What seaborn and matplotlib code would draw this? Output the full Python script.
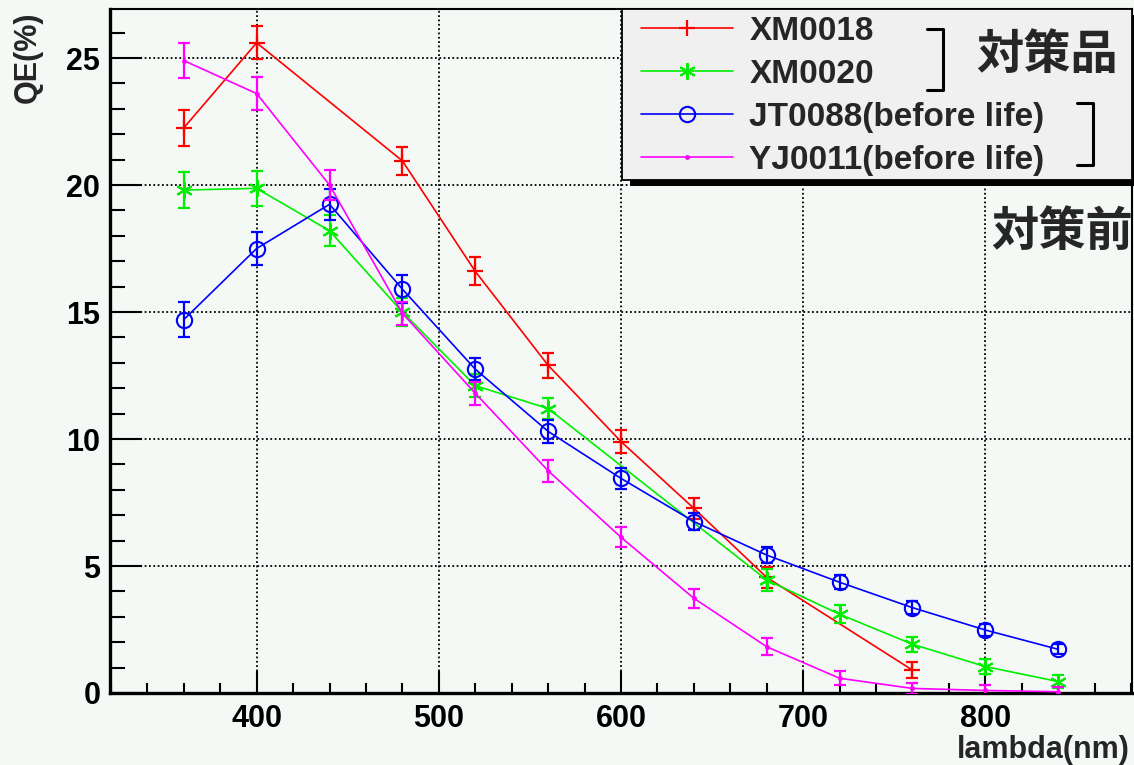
import numpy as np
import pandas as pd
import matplotlib
matplotlib.use("Agg")
import matplotlib.pyplot as plt
from matplotlib.lines import Line2D
from matplotlib.patches import Rectangle
from matplotlib.ticker import MultipleLocator
import seaborn as sns

# QE vs wavelength
wl_xm0018 = [360, 400, 480, 520, 560, 600, 640, 680, 760]
qe_xm0018 = [22.25, 25.6, 20.95, 16.6, 12.9, 9.9, 7.27, 4.55, 0.9]
er_xm0018 = [0.7, 0.65, 0.55, 0.55, 0.5, 0.46, 0.42, 0.4, 0.32]

wl_xm0020 = [360, 400, 440, 480, 520, 560, 680, 720, 760, 800, 840]
qe_xm0020 = [19.8, 19.87, 18.2, 15.0, 12.1, 11.2, 4.45, 3.1, 1.92, 1.04, 0.45]
er_xm0020 = [0.7, 0.7, 0.6, 0.55, 0.45, 0.43, 0.42, 0.35, 0.3, 0.3, 0.25]

wl_jt0088 = [360, 400, 440, 480, 520, 560, 600, 640, 680, 720, 760, 800, 840]
qe_jt0088 = [14.7, 17.5, 19.24, 15.9, 12.75, 10.3, 8.45, 6.75, 5.43, 4.36, 3.36, 2.48, 1.72]
er_jt0088 = [0.7, 0.66, 0.6, 0.55, 0.43, 0.45, 0.4, 0.35, 0.3, 0.28, 0.25, 0.22, 0.2]

wl_yj0011 = [360, 400, 440, 480, 520, 560, 600, 640, 680, 720, 760, 800, 840]
qe_yj0011 = [24.9, 23.6, 20.0, 14.95, 11.8, 8.75, 6.13, 3.73, 1.82, 0.58, 0.18, 0.1, 0.05]
er_yj0011 = [0.68, 0.64, 0.6, 0.45, 0.46, 0.43, 0.4, 0.37, 0.33, 0.28, 0.22, 0.2, 0.18]

labels = ["XM0018", "XM0020", "JT0088(before life)", "YJ0011(before life)"]
group_labels = ["対策品", "対策前"]

W, H = 1134, 765
BG = "#f5f9f6"

sns.set_theme(style="ticks")
plt.rcParams.update({
    "font.family": ["Liberation Sans", "DejaVu Sans"],
    "font.weight": "bold",
    "axes.labelweight": "bold",
    "figure.facecolor": BG,
    "axes.facecolor": BG,
    "savefig.facecolor": BG,
})

series = [
    (wl_xm0018, qe_xm0018, er_xm0018, "#ff0000", dict(marker="+", markersize=12, markeredgewidth=1.6)),
    (wl_xm0020, qe_xm0020, er_xm0020, "#00ee00", dict(marker=(6, 2, 0), markersize=12, markeredgewidth=1.5)),
    (wl_jt0088, qe_jt0088, er_jt0088, "#0000ff", dict(marker="o", markersize=11, markerfacecolor="none", markeredgewidth=1.5)),
    (wl_yj0011, qe_yj0011, er_yj0011, "#ff00ff", dict(marker="o", markersize=3.5, markeredgewidth=0)),
]

fig = plt.figure(figsize=(W / 100, H / 100), dpi=100)
ax = fig.add_axes([110 / W, 72 / H, 1022 / W, 684 / H])

handles = []
for (wl, qe, er, col, mk), lab in zip(series, labels):
    df = pd.DataFrame({"lambda": wl, "QE": qe})
    sns.lineplot(data=df, x="lambda", y="QE", ax=ax, color=col, linewidth=1.2,
                 errorbar=None, markeredgecolor=col, zorder=3, **mk)
    ax.errorbar(wl, qe, yerr=er, fmt="none", ecolor=col, elinewidth=1.6,
                capsize=4.5, capthick=1.6, zorder=3)
    handles.append(Line2D([], [], color=col, linewidth=1.2, markeredgecolor=col, **mk))

ax.set_xlim(319.5, 880.5)
ax.set_ylim(0, 26.93)
ax.xaxis.set_major_locator(MultipleLocator(100))
ax.xaxis.set_minor_locator(MultipleLocator(20))
ax.yaxis.set_major_locator(MultipleLocator(5))
ax.yaxis.set_minor_locator(MultipleLocator(1))
ax.tick_params(axis="both", which="both", direction="in", colors="black", width=1.5)
ax.tick_params(axis="y", which="major", length=23, labelsize=22, pad=7)
ax.tick_params(axis="y", which="minor", length=11)
ax.tick_params(axis="x", which="major", length=16, labelsize=22, pad=8)
ax.tick_params(axis="x", which="minor", length=7)
for t in ax.get_xticklabels() + ax.get_yticklabels():
    t.set_fontweight("bold")

ax.grid(True, which="major", color="black", linestyle=(0, (1, 1.4)), linewidth=1.3, zorder=1)
for s in ["left", "bottom"]:
    ax.spines[s].set_linewidth(2.4)
for s in ["top", "right"]:
    ax.spines[s].set_linewidth(1.5)
for s in ax.spines.values():
    s.set_color("black")

ax.set_ylabel("QE(%)", fontsize=22, loc="top")
ax.yaxis.set_label_coords(-0.066, 0.996)
ax.set_xlabel("lambda(nm)", fontsize=22, loc="right")
ax.xaxis.set_label_coords(0.998, -0.062)
if ax.get_legend() is not None:
    ax.get_legend().remove()


def fx(x):
    return x / W


def fy(y):
    return 1 - y / H


# ROOT-style legend box with a black drop shadow
fig.add_artist(Rectangle((fx(630), fy(186)), fx(510), 171 / H, transform=fig.transFigure,
                         facecolor="black", edgecolor="none", zorder=2))
fig.add_artist(Rectangle((fx(622), fy(180)), fx(510), 171 / H, transform=fig.transFigure,
                         facecolor="#f0f0f0", edgecolor="black", linewidth=1.3, zorder=2.1))

leg = fig.legend(handles, labels, loc="upper left", bbox_to_anchor=(fx(641), fy(16)),
                 bbox_transform=fig.transFigure, borderaxespad=0, frameon=False,
                 prop={"size": 24, "weight": "bold"}, handlelength=2.75,
                 handletextpad=0.5, borderpad=0.0, labelspacing=0.36)
leg.set_zorder(3)

# brackets and group notes
for x0, x1, y0, y1 in [(927, 943, 29, 90), (1077, 1093, 103, 165)]:
    fig.add_artist(Line2D([fx(x0), fx(x1), fx(x1), fx(x0)], [fy(y0), fy(y0), fy(y1), fy(y1)],
                          color="black", linewidth=2.2, zorder=10))
jp = ["Noto Sans CJK JP", "DejaVu Sans"]
fig.text(fx(976), fy(55), group_labels[0], family=jp, fontsize=34, fontweight="bold",
         ha="left", va="center", zorder=10)
fig.text(fx(991), fy(232), group_labels[1], family=jp, fontsize=34, fontweight="bold",
         ha="left", va="center", zorder=10)

fig.savefig("out.png", dpi=100)
